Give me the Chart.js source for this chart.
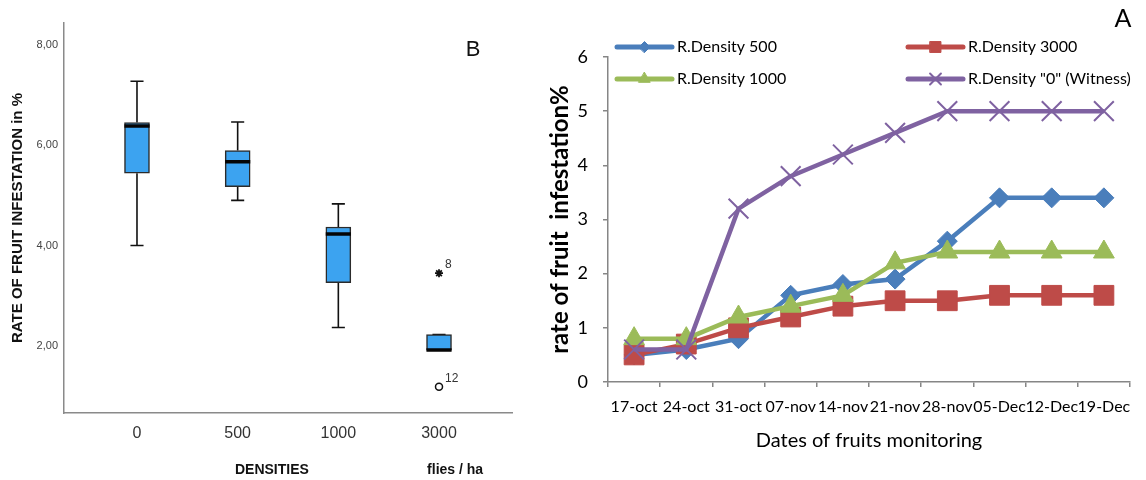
<!DOCTYPE html>
<html>
<head>
<meta charset="utf-8">
<script src="https://cdn.jsdelivr.net/npm/chart.js@4/dist/chart.umd.min.js"></script>
<style>
    body { margin: 0; background: #fff; width: 1146px; height: 480px; position: relative; overflow: hidden; }
    #panel-b { position: absolute; left: 0; top: 0; width: 530px; height: 480px; }
    #panel-a { position: absolute; left: 530px; top: 0; width: 616px; height: 480px; }
</style>
</head>
<body>
<div id="panel-b"><canvas id="density-boxplot"></canvas></div>
<div id="panel-a"><canvas id="infestation-chart"></canvas></div>
<script>
// ---- panel B : infestation rate per density (box plot summary) ----
const densities = ['0', '500', '1000', '3000'];
const whiskerLow = [4.00, 4.90, 2.37, 1.92];
const boxQ1 = [5.44, 5.17, 3.26, 1.92];
const boxMedian = [6.38, 5.67, 4.23, 1.92];
const boxQ3 = [6.45, 5.89, 4.37, 2.23];
const whiskerHigh = [7.27, 6.46, 4.83, 2.23];
const extremeGroup = [3];
const extremeValue = [3.45];
const extremeCase = ['8'];
const outlierGroup = [3];
const outlierValue = [1.19];
const outlierCase = ['12'];
const rateTicks = [2, 4, 6, 8];

// ---- panel A : rate of fruit infestation per monitoring date ----
const dates = ['17-oct', '24-oct', '31-oct', '07-nov', '14-nov', '21-nov', '28-nov', '05-Dec', '12-Dec', '19-Dec'];
const density500 = [0.5, 0.6, 0.8, 1.6, 1.8, 1.9, 2.6, 3.4, 3.4, 3.4];
const density3000 = [0.5, 0.7, 1.0, 1.2, 1.4, 1.5, 1.5, 1.6, 1.6, 1.6];
const density1000 = [0.8, 0.8, 1.2, 1.4, 1.6, 2.2, 2.4, 2.4, 2.4, 2.4];
const density0 = [0.6, 0.6, 3.2, 3.8, 4.2, 4.6, 5.0, 5.0, 5.0, 5.0];

const arialLike = "'Liberation Sans', Arial, sans-serif";
const calibriLike = "Lato, 'Open Sans', sans-serif";

class DensityBoxPlot {
    constructor() {
        this.execute();
    }

    whiskers() {
        const capHalf = 0.065;
        let points = [];
        densities.forEach((d, i) => {
            points.push({x: i, y: whiskerLow[i]}, {x: i, y: boxQ1[i]}, {x: i, y: null});
            points.push({x: i, y: boxQ3[i]}, {x: i, y: whiskerHigh[i]}, {x: i, y: null});
            points.push({x: i - capHalf, y: whiskerLow[i]}, {x: i + capHalf, y: whiskerLow[i]}, {x: i, y: null});
            points.push({x: i - capHalf, y: whiskerHigh[i]}, {x: i + capHalf, y: whiskerHigh[i]}, {x: i, y: null});
        });
        return points;
    }

    medians() {
        const half = 0.125;
        let points = [];
        densities.forEach((d, i) => {
            points.push({x: i - half, y: boxMedian[i]}, {x: i + half, y: boxMedian[i]}, {x: i, y: null});
        });
        return points;
    }

    execute() {
        const ctx = document.getElementById('density-boxplot');

        const caseLabels = {
            id: 'caseLabels',
            afterDatasetsDraw(chart) {
                const c = chart.ctx;
                c.save();
                c.font = '12px ' + arialLike;
                c.fillStyle = '#333';
                c.textBaseline = 'alphabetic';
                [[3, extremeCase], [4, outlierCase]].forEach(([dsIndex, names]) => {
                    chart.getDatasetMeta(dsIndex).data.forEach((pt, j) => {
                        c.fillText(names[j], pt.x + 6, pt.y - 5);
                    });
                });

                const x = chart.scales.x;
                c.fillStyle = '#111';
                c.textAlign = 'center';
                c.textBaseline = 'middle';
                c.font = 'bold 14px ' + arialLike;
                c.fillText('DENSITIES', x.getPixelForValue(1.34), 470);
                c.fillText('flies / ha', x.getPixelForValue(3.16), 470);
                c.font = '22px ' + arialLike;
                c.fillText('B', 473, 50);
                c.restore();
            }
        };

        const config = {
            type: 'bar',
            data: {
                datasets: [
                    {
                        type: 'bar',
                        data: densities.map((d, i) => ({x: i, y: [boxQ1[i], boxQ3[i]]})),
                        backgroundColor: '#3ca3f0',
                        borderColor: '#2b2b2b',
                        borderWidth: 1.5,
                        borderSkipped: false,
                        barThickness: 25,
                        order: 2
                    },
                    {
                        type: 'line',
                        data: this.whiskers(),
                        borderColor: '#111',
                        borderWidth: 1.6,
                        pointRadius: 0,
                        spanGaps: false,
                        order: 3
                    },
                    {
                        type: 'line',
                        data: this.medians(),
                        borderColor: '#050505',
                        borderWidth: 3.5,
                        pointRadius: 0,
                        spanGaps: false,
                        order: 1
                    },
                    {
                        type: 'line',
                        showLine: false,
                        data: extremeGroup.map((g, i) => ({x: g, y: extremeValue[i]})),
                        pointStyle: 'star',
                        pointRadius: 4,
                        pointBorderColor: '#111',
                        pointBorderWidth: 1.8,
                        order: 0
                    },
                    {
                        type: 'line',
                        showLine: false,
                        data: outlierGroup.map((g, i) => ({x: g, y: outlierValue[i]})),
                        pointStyle: 'circle',
                        pointRadius: 3.5,
                        pointBackgroundColor: 'rgba(0,0,0,0)',
                        pointBorderColor: '#111',
                        pointBorderWidth: 1.5,
                        order: 0
                    }
                ]
            },
            options: {
                responsive: true,
                maintainAspectRatio: false,
                animation: false,
                layout: {
                    padding: {top: 23, right: 18, left: 0, bottom: 0}
                },
                plugins: {
                    legend: {display: false},
                    tooltip: {enabled: false}
                },
                scales: {
                    x: {
                        type: 'linear',
                        min: -0.725,
                        max: 3.725,
                        offset: false,
                        afterBuildTicks: (scale) => {
                            scale.ticks = densities.map((d, i) => ({value: i}));
                        },
                        afterFit: (scale) => {
                            scale.height = 67;
                        },
                        ticks: {
                            callback: (value) => densities[value],
                            font: {family: arialLike, size: 16},
                            color: '#333',
                            padding: 11
                        },
                        grid: {drawOnChartArea: false, drawTicks: false},
                        border: {color: '#8a8a8a', width: 1.5}
                    },
                    y: {
                        min: 0.667,
                        max: 8.43,
                        afterBuildTicks: (scale) => {
                            scale.ticks = rateTicks.map(v => ({value: v}));
                        },
                        afterFit: (scale) => {
                            scale.width = 64;
                        },
                        ticks: {
                            callback: (value) => value.toFixed(2).replace('.', ','),
                            font: {family: arialLike, size: 11},
                            color: '#444',
                            padding: 6
                        },
                        grid: {drawOnChartArea: false, drawTicks: false},
                        border: {color: '#8a8a8a', width: 1.5},
                        title: {
                            display: true,
                            text: 'RATE OF FRUIT INFESTATION in %',
                            font: {family: arialLike, weight: 'bold', size: 15},
                            color: '#111',
                            padding: {top: 9, bottom: 0}
                        }
                    }
                }
            },
            plugins: [caseLabels]
        };

        new Chart(ctx, config);
    }
}

class InfestationPerDateChart {
    constructor() {
        this.execute();
    }

    execute() {
        const ctx = document.getElementById('infestation-chart');

        const series = [
            {label: 'R.Density 500', values: density500, color: '#4a7ebb', style: 'rectRot', radius: 10, order: 3},
            {label: 'R.Density 3000', values: density3000, color: '#be4b48', style: 'rect', radius: 14, order: 2},
            {label: 'R.Density 1000', values: density1000, color: '#9bbb59', style: 'triangle', radius: 12, order: 1},
            {label: 'R.Density "0" (Witness)', values: density0, color: '#7f62a1', style: 'crossRot', radius: 14, order: 0}
        ];

        const gridLegend = {
            id: 'gridLegend',
            afterDraw(chart) {
                const c = chart.ctx;
                const left = chart.chartArea.left;
                chart.data.datasets.forEach((ds, i) => {
                    const x0 = left + 9 + (i % 2) * 291;
                    const y = 47 + Math.floor(i / 2) * 32;
                    c.save();
                    c.strokeStyle = ds.borderColor;
                    c.lineWidth = 5;
                    c.lineCap = 'round';
                    c.beginPath();
                    c.moveTo(x0, y);
                    c.lineTo(x0 + 55, y);
                    c.stroke();
                    c.fillStyle = ds.borderColor;
                    c.strokeStyle = ds.borderColor;
                    c.lineWidth = ds.pointBorderWidth;
                    Chart.helpers.drawPoint(c, {
                        pointStyle: ds.pointStyle,
                        radius: ds.pointRadius * 0.55,
                        borderWidth: ds.pointBorderWidth,
                        rotation: 0
                    }, x0 + 27.5, y);
                    c.fillStyle = '#000';
                    c.font = '16px ' + calibriLike;
                    c.textBaseline = 'middle';
                    c.textAlign = 'left';
                    c.fillText(ds.label, x0 + 60, y);
                    c.restore();
                });
                c.save();
                c.fillStyle = '#000';
                c.font = '25px ' + calibriLike;
                c.textAlign = 'center';
                c.textBaseline = 'middle';
                c.fillText('A', 593, 19);
                c.restore();
            }
        };

        const data = {
            labels: dates,
            datasets: series.map(s => ({
                label: s.label,
                data: s.values,
                borderColor: s.color,
                backgroundColor: s.color,
                borderWidth: 4.5,
                pointStyle: s.style,
                pointRadius: s.radius,
                pointHoverRadius: s.radius,
                pointBackgroundColor: s.style === 'crossRot' ? 'rgba(0,0,0,0)' : s.color,
                pointBorderColor: s.color,
                pointBorderWidth: s.style === 'crossRot' ? 2 : 1,
                tension: 0,
                order: s.order
            }))
        };

        const config = {
            type: 'line',
            data: data,
            options: {
                responsive: true,
                maintainAspectRatio: false,
                animation: false,
                layout: {
                    padding: {top: 57, right: 4, left: 0, bottom: 0}
                },
                plugins: {
                    legend: {display: false},
                    tooltip: {enabled: false}
                },
                scales: {
                    x: {
                        offset: true,
                        afterFit: (scale) => {
                            scale.height = 98;
                        },
                        ticks: {
                            autoSkip: false,
                            maxRotation: 0,
                            font: {family: calibriLike, size: 16},
                            color: '#000',
                            padding: 10
                        },
                        grid: {offset: true, drawOnChartArea: false, tickLength: 5, color: '#868686', lineWidth: 1.5},
                        border: {color: '#868686', width: 1.5},
                        title: {
                            display: true,
                            text: 'Dates of fruits monitoring',
                            font: {family: calibriLike, size: 20},
                            color: '#000',
                            padding: {top: 0, bottom: 27}
                        }
                    },
                    y: {
                        min: 0,
                        max: 6,
                        ticks: {
                            stepSize: 1,
                            font: {family: calibriLike, size: 18},
                            color: '#000',
                            padding: 15
                        },
                        afterFit: (scale) => {
                            scale.width = 78;
                        },
                        grid: {drawOnChartArea: false, tickLength: 5, color: '#868686', lineWidth: 1.5},
                        border: {color: '#868686', width: 1.5},
                        title: {
                            display: true,
                            text: 'rate of fruit  infestation%',
                            font: {family: calibriLike, size: 24, weight: 'bold'},
                            color: '#000',
                            padding: {top: 16, bottom: 0}
                        }
                    }
                }
            },
            plugins: [gridLegend]
        };

        new Chart(ctx, config);
    }
}

new DensityBoxPlot();
new InfestationPerDateChart();
</script>
</body>
</html>
